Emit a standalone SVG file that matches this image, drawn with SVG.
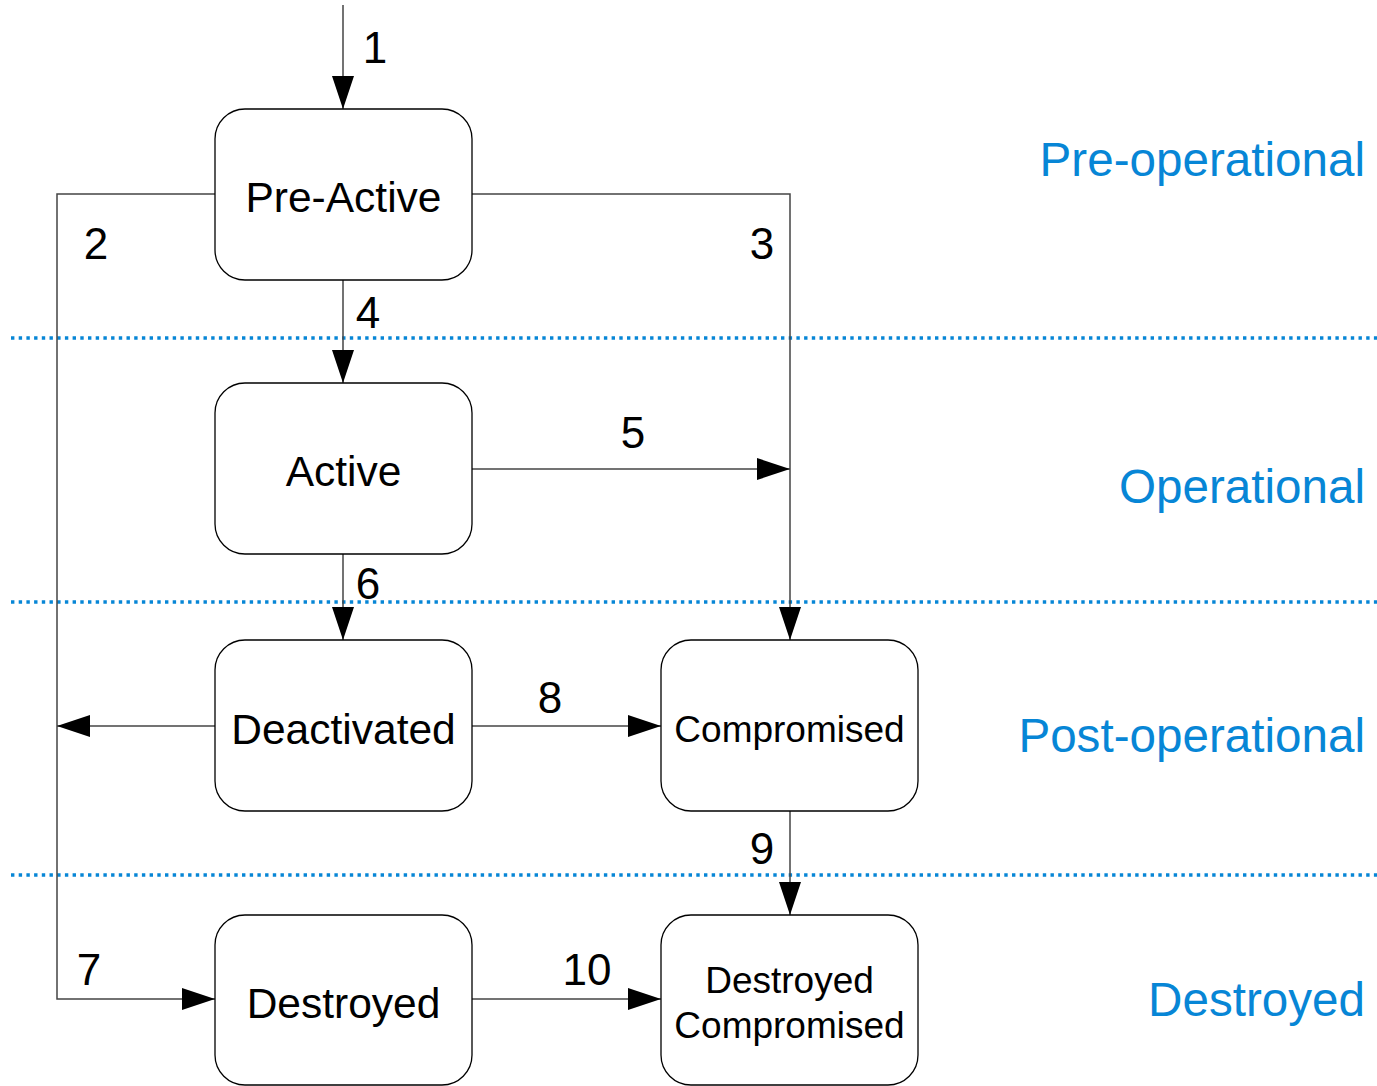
<svg xmlns="http://www.w3.org/2000/svg" width="1377" height="1086" viewBox="0 0 1377 1086">
<style>
.node rect{fill:#fff;stroke:#000;stroke-width:1.3}
.nt{font-family:"Liberation Sans",Arial,sans-serif;font-size:42.5px;fill:#000;text-anchor:middle}
.nts{font-size:37px}
.lbl{font-family:"Liberation Sans",Arial,sans-serif;font-size:44px;fill:#000;text-anchor:middle}
.band{font-family:"Liberation Sans",Arial,sans-serif;font-size:47.6px;fill:#0786d6;text-anchor:end}
.sep{stroke:#0786d6;stroke-width:3.3;stroke-dasharray:3.4 4.3;fill:none}
.c{stroke:#444;stroke-width:1.5;fill:none}
</style>
<defs>
<marker id="ah" markerUnits="userSpaceOnUse" markerWidth="33" markerHeight="22" refX="33" refY="11" orient="auto">
<path d="M0,0 L33,11 L0,22 z" fill="#000"/>
</marker>
</defs>
<rect width="1377" height="1086" fill="#fff"/>
<g id="separators">
<line class="sep" x1="11" y1="338" x2="1377" y2="338"/>
<line class="sep" x1="11" y1="602" x2="1377" y2="602"/>
<line class="sep" x1="11" y1="875" x2="1377" y2="875"/>
</g>
<g id="bands">
<text class="band" x="1365" y="176">Pre-operational</text>
<text class="band" x="1365" y="503">Operational</text>
<text class="band" x="1365" y="752">Post-operational</text>
<text class="band" x="1365" y="1016">Destroyed</text>
</g>
<g id="connectors">
<path class="c" d="M343,5 V109" marker-end="url(#ah)"/>
<path class="c" d="M215,194 H57 V999 H215" marker-end="url(#ah)"/>
<path class="c" d="M472,194 H790 V640" marker-end="url(#ah)"/>
<path class="c" d="M343,280 V383" marker-end="url(#ah)"/>
<path class="c" d="M472,469 H790" marker-end="url(#ah)"/>
<path class="c" d="M343,554 V640" marker-end="url(#ah)"/>
<path class="c" d="M215,726 H57" marker-end="url(#ah)"/>
<path class="c" d="M472,726 H661" marker-end="url(#ah)"/>
<path class="c" d="M790,811 V915" marker-end="url(#ah)"/>
<path class="c" d="M472,999 H661" marker-end="url(#ah)"/>
</g>
<g id="labels">
<text class="lbl" x="375" y="63">1</text>
<text class="lbl" x="96" y="259">2</text>
<text class="lbl" x="762" y="259">3</text>
<text class="lbl" x="368" y="328">4</text>
<text class="lbl" x="633" y="448">5</text>
<text class="lbl" x="368" y="599">6</text>
<text class="lbl" x="89" y="985">7</text>
<text class="lbl" x="550" y="713">8</text>
<text class="lbl" x="762" y="864">9</text>
<text class="lbl" x="587" y="985">10</text>
</g>
<g id="pre-active" class="node"><rect x="215" y="109" width="257" height="171" rx="30"/><text class="nt" x="343.5" y="212">Pre-Active</text></g>
<g id="active" class="node"><rect x="215" y="383" width="257" height="171" rx="30"/><text class="nt" x="343.5" y="486">Active</text></g>
<g id="deactivated" class="node"><rect x="215" y="640" width="257" height="171" rx="30"/><text class="nt" x="343.5" y="744">Deactivated</text></g>
<g id="compromised" class="node"><rect x="661" y="640" width="257" height="171" rx="30"/><text class="nt nts" x="789.5" y="742">Compromised</text></g>
<g id="destroyed" class="node"><rect x="215" y="915" width="257" height="170" rx="30"/><text class="nt" x="343.5" y="1018">Destroyed</text></g>
<g id="destroyed-compromised" class="node"><rect x="661" y="915" width="257" height="170" rx="30"/><text class="nt nts" x="789.5" y="993">Destroyed</text><text class="nt nts" x="789.5" y="1038">Compromised</text></g>
</svg>
